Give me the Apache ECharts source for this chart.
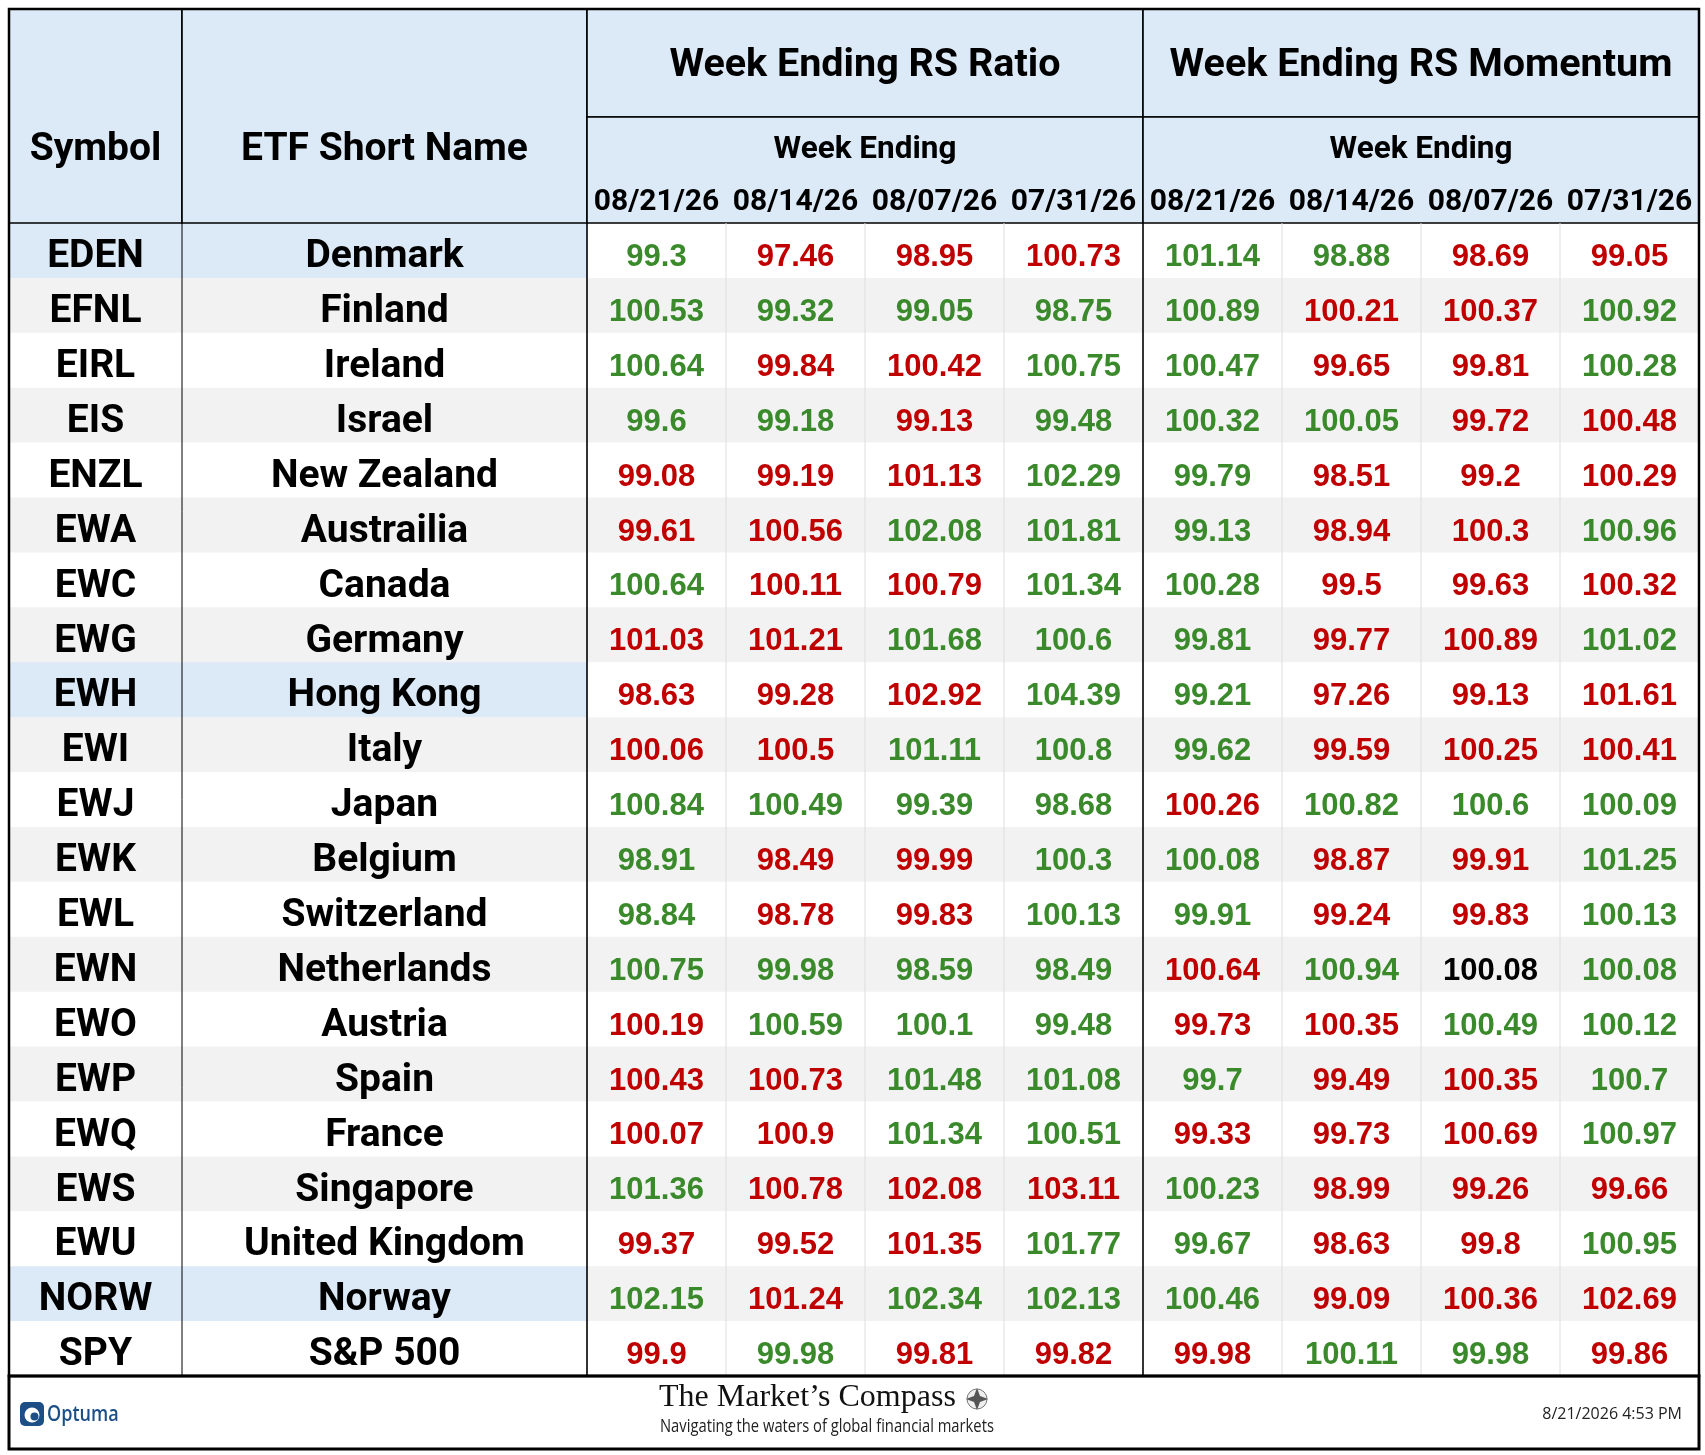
<!DOCTYPE html>
<html>
<head>
<meta charset="utf-8">
<title>Week Ending RS Ratio / RS Momentum</title>
<script src="https://cdn.jsdelivr.net/npm/echarts@6/dist/echarts.min.js"></script>
<style>
html, body { margin: 0; padding: 0; background: #fff; }
#main { width: 1705px; height: 1455px; }
</style>
</head>
<body>
<div id="main"></div>
<script>
'use strict';

// ETFs
var symbols = ['EDEN','EFNL','EIRL','EIS','ENZL','EWA','EWC','EWG','EWH','EWI','EWJ','EWK','EWL','EWN','EWO','EWP','EWQ','EWS','EWU','NORW','SPY'];
var names = ['Denmark','Finland','Ireland','Israel','New Zealand','Austrailia','Canada','Germany','Hong Kong','Italy','Japan','Belgium','Switzerland','Netherlands','Austria','Spain','France','Singapore','United Kingdom','Norway','S&P 500'];
var highlighted = ['EDEN','EWH','NORW'];

// header texts
var colTitles = ['Symbol', 'ETF Short Name'];
var groupTitles = ['Week Ending RS Ratio', 'Week Ending RS Momentum'];
var subTitle = 'Week Ending';
var weeks = ['08/21/26', '08/14/26', '08/07/26', '07/31/26'];

// RS Ratio, newest week first
var rsRatio = [
    [99.3, 97.46, 98.95, 100.73],
    [100.53, 99.32, 99.05, 98.75],
    [100.64, 99.84, 100.42, 100.75],
    [99.6, 99.18, 99.13, 99.48],
    [99.08, 99.19, 101.13, 102.29],
    [99.61, 100.56, 102.08, 101.81],
    [100.64, 100.11, 100.79, 101.34],
    [101.03, 101.21, 101.68, 100.6],
    [98.63, 99.28, 102.92, 104.39],
    [100.06, 100.5, 101.11, 100.8],
    [100.84, 100.49, 99.39, 98.68],
    [98.91, 98.49, 99.99, 100.3],
    [98.84, 98.78, 99.83, 100.13],
    [100.75, 99.98, 98.59, 98.49],
    [100.19, 100.59, 100.1, 99.48],
    [100.43, 100.73, 101.48, 101.08],
    [100.07, 100.9, 101.34, 100.51],
    [101.36, 100.78, 102.08, 103.11],
    [99.37, 99.52, 101.35, 101.77],
    [102.15, 101.24, 102.34, 102.13],
    [99.9, 99.98, 99.81, 99.82]
];

// RS Momentum, newest week first
var rsMomentum = [
    [101.14, 98.88, 98.69, 99.05],
    [100.89, 100.21, 100.37, 100.92],
    [100.47, 99.65, 99.81, 100.28],
    [100.32, 100.05, 99.72, 100.48],
    [99.79, 98.51, 99.2, 100.29],
    [99.13, 98.94, 100.3, 100.96],
    [100.28, 99.5, 99.63, 100.32],
    [99.81, 99.77, 100.89, 101.02],
    [99.21, 97.26, 99.13, 101.61],
    [99.62, 99.59, 100.25, 100.41],
    [100.26, 100.82, 100.6, 100.09],
    [100.08, 98.87, 99.91, 101.25],
    [99.91, 99.24, 99.83, 100.13],
    [100.64, 100.94, 100.08, 100.08],
    [99.73, 100.35, 100.49, 100.12],
    [99.7, 99.49, 100.35, 100.7],
    [99.33, 99.73, 100.69, 100.97],
    [100.23, 98.99, 99.26, 99.66],
    [99.67, 98.63, 99.8, 100.95],
    [100.46, 99.09, 100.36, 102.69],
    [99.98, 100.11, 99.98, 99.86]
];

// oldest column: up (1) / down (-1) vs the week before it, which is not in the table
var ratioPrevDir = [-1,1,1,1,1,1,1,1,1,1,1,1,1,1,1,1,1,-1,1,1,-1];
var momentumPrevDir = [-1,1,1,-1,-1,1,-1,1,-1,-1,1,1,1,1,1,1,1,-1,1,-1,-1];

// layout
var COL_W = [173, 405, 139, 139, 139, 139, 139, 139, 139, 139];
var edges = [0];
for (var c = 0; c < COL_W.length; c++) edges.push(edges[c] + COL_W[c]);
var TABLE_W = edges[edges.length - 1];
var HEAD_H = 214, TIER_H = 108;

var UP = '#3a8a2c', DOWN = '#c00000', FLAT = '#000000';
var BLUE_BG = '#dce9f6', GREY_BG = '#f2f2f2';
var LABEL_FONT = 'bold 39px Roboto, "Noto Sans", sans-serif';
var NUM_FONT = 'bold 31px "Liberation Sans", Arial, sans-serif';

function cellColor(set, dirs, row, k) {
    var d;
    if (k < 3) d = set[row][k] - set[row][k + 1];
    else d = dirs[row];
    if (d > 0) return UP;
    if (d < 0) return DOWN;
    return FLAT;
}

// header cells, built from the header texts
var headCells = [];
headCells.push({c0: 0, c1: 1, t0: 0, t1: HEAD_H, ty: 141, text: colTitles[0], font: LABEL_FONT, line: true});
headCells.push({c0: 1, c1: 2, t0: 0, t1: HEAD_H, ty: 141, text: colTitles[1], font: LABEL_FONT, line: true});
for (var g = 0; g < 2; g++) {
    headCells.push({c0: 2 + g * 4, c1: 6 + g * 4, t0: 0, t1: TIER_H, ty: 57, text: groupTitles[g], font: 'bold 39.5px Roboto, "Noto Sans", sans-serif', line: true});
    headCells.push({c0: 2 + g * 4, c1: 6 + g * 4, t0: TIER_H, t1: HEAD_H, ty: 141, text: subTitle, font: 'bold 31.5px Roboto, "Noto Sans", sans-serif', line: true});
    for (var w = 0; w < weeks.length; w++) {
        headCells.push({c0: 2 + g * 4 + w, c1: 3 + g * 4 + w, t0: 170, t1: 212, ty: 193, text: weeks[w], font: 'bold 30px Roboto, "Noto Sans", sans-serif', line: false});
    }
}

function renderHead(params, api) {
    var h = headCells[params.dataIndex];
    var a = api.coord([edges[h.c0], h.t0]);
    var b = api.coord([edges[h.c1], h.t1]);
    var t = api.coord([0, h.ty]);
    var kids = [];
    if (h.line) {
        kids.push({type: 'rect', shape: {x: a[0], y: a[1], width: b[0] - a[0], height: b[1] - a[1]},
            style: {fill: BLUE_BG, stroke: '#000', lineWidth: 1.6}});
    }
    kids.push({type: 'text', x: (a[0] + b[0]) / 2, y: t[1],
        style: {text: h.text, font: h.font, fill: '#000', align: 'center', verticalAlign: 'middle'}});
    return {type: 'group', children: kids};
}

// body cells: 10 per row
var bodyIdx = [];
for (var i = 0; i < symbols.length * 10; i++) bodyIdx.push(i);

function renderCell(params, api) {
    var i = params.dataIndex;
    var row = Math.floor(i / 10), col = i % 10;
    var a = api.coord([edges[col], row]);
    var b = api.coord([edges[col + 1], row]);
    var h = api.size([0, 1])[1];
    var bg = row % 2 ? GREY_BG : '#ffffff';
    var txt, color = '#000', font = LABEL_FONT, dy = 7;
    if (col < 2 && highlighted.indexOf(symbols[row]) >= 0) bg = BLUE_BG;
    if (col == 0) {
        txt = symbols[row];
    } else if (col == 1) {
        txt = names[row];
    } else {
        var k = (col - 2) % 4;
        var isRatio = col < 6;
        var set = isRatio ? rsRatio : rsMomentum;
        txt = String(set[row][k]);
        color = cellColor(set, isRatio ? ratioPrevDir : momentumPrevDir, row, k);
        font = NUM_FONT;
        dy = 7;
    }
    return {type: 'group', children: [
        {type: 'rect', shape: {x: a[0], y: a[1] - h / 2, width: b[0] - a[0] + 0.5, height: h + 0.5}, style: {fill: bg}},
        {type: 'text', x: (a[0] + b[0]) / 2, y: a[1] + dy,
            style: {text: txt, font: font, fill: color, align: 'center', verticalAlign: 'middle'}}
    ]};
}

// vertical rules in the body
var ruleIdx = [1, 2, 3, 4, 5, 6, 7, 8, 9];
function renderRule(params, api) {
    var e = ruleIdx[params.dataIndex];
    var h = api.size([0, 1])[1];
    var top = api.coord([edges[e], 0]);
    var bot = api.coord([edges[e], symbols.length - 1]);
    var stroke = '#dedede', lw = 1;
    if (e == 1) { stroke = '#000'; lw = 1; }
    if (e == 2 || e == 6) { stroke = '#000'; lw = 1.6; }
    return {type: 'line', shape: {x1: top[0], y1: top[1] - h / 2, x2: bot[0], y2: bot[1] + h / 2},
        style: {stroke: stroke, lineWidth: lw}};
}

var myChart = echarts.init(document.getElementById('main'));

var option = {
    animation: false,
    backgroundColor: '#fff',
    grid: [
        {left: 9, top: 9, width: TABLE_W, height: HEAD_H},
        {left: 9, top: 9 + HEAD_H, width: TABLE_W, height: 1153}
    ],
    xAxis: [
        {gridIndex: 0, type: 'value', min: 0, max: TABLE_W, show: false},
        {gridIndex: 1, type: 'value', min: 0, max: TABLE_W, show: false}
    ],
    yAxis: [
        {gridIndex: 0, type: 'value', min: 0, max: HEAD_H, inverse: true, show: false},
        {gridIndex: 1, type: 'category', data: symbols, inverse: true, show: false}
    ],
    series: [
        {
            type: 'custom', xAxisIndex: 0, yAxisIndex: 0,
            renderItem: renderHead,
            data: headCells.map(function (d, j) { return [j, 0]; }),
            encode: {x: 0, y: 1},
            silent: true, z: 3
        },
        {
            type: 'custom', xAxisIndex: 1, yAxisIndex: 1,
            renderItem: renderCell,
            data: bodyIdx.map(function (j) { return [j, Math.floor(j / 10)]; }),
            encode: {x: 0, y: 1},
            silent: true, z: 2
        },
        {
            type: 'custom', xAxisIndex: 1, yAxisIndex: 1,
            renderItem: renderRule,
            data: ruleIdx.map(function (e, j) { return [j, 0]; }),
            encode: {x: 0, y: 1},
            silent: true, z: 4
        }
    ],
    graphic: [
        // outer frame of the table
        {type: 'rect', z: 100, shape: {x: 9, y: 9, width: TABLE_W, height: HEAD_H + 1153},
            style: {fill: 'none', stroke: '#000', lineWidth: 2.5}},
        // footer box
        {type: 'rect', z: 100, shape: {x: 9, y: 9 + HEAD_H + 1153, width: TABLE_W, height: 73},
            style: {fill: 'none', stroke: '#000', lineWidth: 3}},
        // Optuma logo
        {type: 'rect', z: 100, shape: {x: 20, y: 1402, width: 24, height: 24, r: 5}, style: {fill: '#1d4f86'}},
        {type: 'circle', z: 101, shape: {cx: 32, cy: 1415, r: 7.5}, style: {fill: '#fff'}},
        {type: 'circle', z: 102, shape: {cx: 34.5, cy: 1416.5, r: 4}, style: {fill: '#1d4f86'}},
        {type: 'text', z: 100, x: 47, y: 1415, scaleX: 0.82, originX: 0, originY: 0,
            style: {text: 'Optuma', font: '600 22px "Open Sans", sans-serif', fill: '#1d4f86', verticalAlign: 'middle'}},
        // The Market's Compass
        {type: 'text', z: 100, x: 659, y: 1398,
            style: {text: 'The Market\u2019s Compass', font: '32px "Liberation Serif", "DejaVu Serif", serif', fill: '#111', verticalAlign: 'middle'}},
        {type: 'text', z: 100, x: 660, y: 1427, scaleX: 0.82, originX: 0, originY: 0,
            style: {text: 'Navigating the waters of global financial markets', font: '18px "Open Sans", sans-serif', fill: '#222', verticalAlign: 'middle'}},
        {type: 'circle', z: 100, shape: {cx: 977, cy: 1399, r: 10}, style: {fill: '#eee', stroke: '#777', lineWidth: 1}},
        {type: 'polygon', z: 101, shape: {points: [[977, 1388], [980, 1396], [988, 1399], [980, 1402], [977, 1410], [974, 1402], [966, 1399], [974, 1396]]},
            style: {fill: '#555'}},
        // timestamp
        {type: 'text', z: 100, x: 1682, y: 1414,
            style: {text: '8/21/2026 4:53 PM', font: '16px "Open Sans", "Noto Sans", sans-serif', fill: '#222', align: 'right', verticalAlign: 'middle'}}
    ]
};

myChart.setOption(option);
</script>
</body>
</html>
